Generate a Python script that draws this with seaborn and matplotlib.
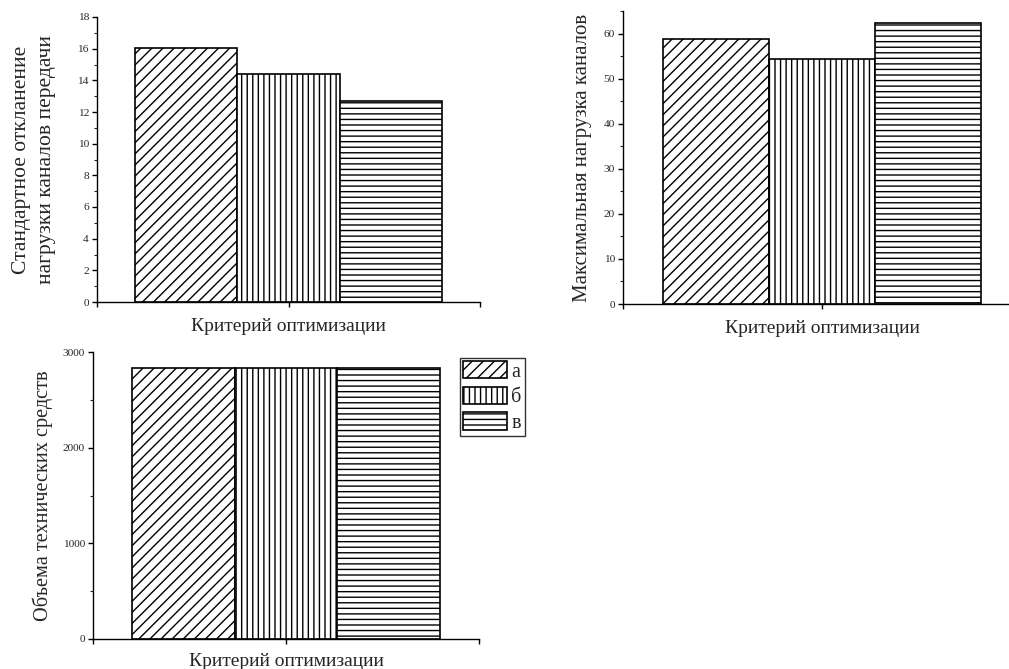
import numpy as np
import pandas as pd
import matplotlib
matplotlib.use('Agg')
import matplotlib.pyplot as plt
import seaborn as sns
from matplotlib.ticker import MultipleLocator

# Data
groups = ['а', 'б', 'в']
std_dev = [16.05, 14.37, 12.69]
max_load = [58.8, 54.4, 62.4]
hw_volume = [2830, 2830, 2830]

hatches = ['///', '|||', '---']
xlabel = 'Критерий оптимизации'

sns.set_style('ticks')
plt.rcParams['font.family'] = ['Liberation Serif', 'DejaVu Serif']
plt.rcParams['hatch.linewidth'] = 1.0

fig = plt.figure(figsize=(10.09, 6.69), dpi=100)
W, H = 1009, 669


def px_axes(left, top, right, bottom):
    return fig.add_axes([left / W, 1 - bottom / H, (right - left) / W, (bottom - top) / H])


def draw(ax, values, ylim, major, minor, ylabel, ylabel_x, fs=15):
    df = pd.DataFrame({'g': groups, 'v': values})
    sns.barplot(data=df, x='g', y='v', ax=ax, color='white', width=1.0,
                edgecolor='black', linewidth=1.2, saturation=1)
    for patch, h in zip(ax.patches, hatches):
        patch.set_hatch(h)
        patch.set_facecolor('white')
    ax.set_xlim(-0.875, 2.875)
    ax.set_ylim(*ylim)
    ax.set_xticks([-0.875, 1, 2.875])
    ax.set_xticklabels([])
    ax.yaxis.set_major_locator(MultipleLocator(major))
    ax.yaxis.set_minor_locator(MultipleLocator(minor))
    ax.tick_params(axis='both', which='major', direction='out', length=3.8, width=1,
                   labelsize=8.2, color='black', pad=2)
    ax.tick_params(axis='y', which='minor', direction='out', length=2.3, width=0.8)
    for s in ['top', 'right']:
        ax.spines[s].set_visible(False)
    for s in ['left', 'bottom']:
        ax.spines[s].set_color('black')
        ax.spines[s].set_linewidth(1.0)
    ax.set_xlabel(xlabel, fontsize=14, labelpad=6)
    ax.set_ylabel(ylabel, fontsize=fs, linespacing=1.45, va='center')
    ax.yaxis.set_label_coords(ylabel_x, 0.5)


# top-left panel
ax1 = px_axes(97, 17, 480, 302)
draw(ax1, std_dev, (0, 18), 2, 1,
     'Стандартное откланение\nнагрузки каналов передачи', (34 - 97) / 383, fs=15.5)

# top-right panel (x axis runs past the right edge, as in the reference)
ax2 = px_axes(623, 11, 1021, 304)
draw(ax2, max_load, (0, 65), 10, 5, 'Максимальная нагрузка каналов', (583 - 623) / 398)

# bottom-left panel
ax3 = px_axes(93, 352, 479, 639)
draw(ax3, hw_volume, (0, 3000), 1000, 500, 'Объема технических средств', (43 - 93) / 386, fs=14.6)
ax3.xaxis.labelpad = 4

leg = fig.legend(handles=list(ax3.patches), labels=groups, loc='upper left',
                 bbox_to_anchor=(460 / W, 1 - 358 / H), fontsize=14.5,
                 frameon=True, fancybox=False, edgecolor='black',
                 handlelength=2.2, handleheight=0.95, borderpad=0.15,
                 labelspacing=0.25, handletextpad=0.2, borderaxespad=0)
leg.get_frame().set_linewidth(1.0)

fig.savefig('out.png', dpi=100)
